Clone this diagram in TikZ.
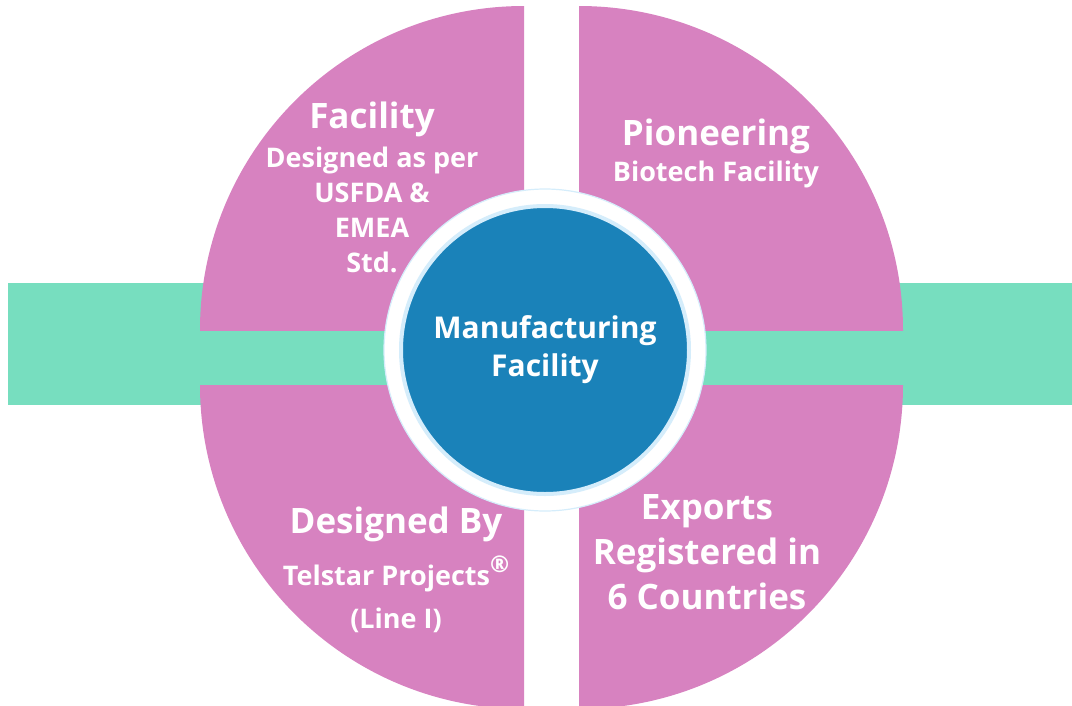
\documentclass[tikz,border=0pt]{standalone}
\usepackage{fontspec}
\setmainfont{Open Sans}
\usetikzlibrary{positioning}
\definecolor{petalpink}{HTML}{D782C0}
\definecolor{bandgreen}{HTML}{77DEBF}
\definecolor{hubblue}{HTML}{1A82B9}
\definecolor{ringblue}{HTML}{D5EDFB}
\tikzset{
    petal/.style = {fill=petalpink},
    band/.style = {fill=bandgreen},
    petal-title/.style = {text=white, font=\bfseries\fontsize{35}{45}\selectfont, align=center, inner sep=0pt, anchor=base},
    petal-text/.style = {text=white, font=\bfseries\fontsize{27}{35}\selectfont, align=center, inner sep=0pt, anchor=base},
    hub-ring/.style = {circle, fill=white, draw=ringblue, line width=1.2pt, minimum size=322pt, inner sep=0pt},
    hub/.style = {circle, fill=hubblue, draw=ringblue, line width=4pt, minimum size=288pt, inner sep=0pt, text=white, align=center, font=\bfseries\fontsize{30}{38}\selectfont},
}

\begin{document}
\begin{tikzpicture}[x=1pt, y=-1pt]
\useasboundingbox (0,0) rectangle (1072,705);
\fill[band] (8,283) rectangle (1072,405);
\foreach \cx/\cy/\ox/\oy in {524/330/0/0, 579/330/1072/0, 524/385/0/705, 579/385/1072/705}{
    \begin{scope}
        \clip (\cx,\cy) rectangle (\ox,\oy);
        \fill[petal] (\cx,\cy) circle (324);
    \end{scope}
}
\node[hub-ring] (ring) at (545,350) {};
\node[hub] (hub) at (ring.center) {Manufacturing\\Facility};

% multi-line nodes sit on the baseline of their last line
\node[petal-title] (tl-title) at (372,128) {Facility};
\node[petal-text] (tl-text) at (372,272) {Designed as per\\USFDA \&\\EMEA\\Std.};
\node[petal-title] (tr-title) at (716,145) {Pioneering};
\node[petal-text] (tr-text) at (716,181) {Biotech Facility};
\node[petal-title] (bl-title) at (396,533) {Designed By};
\node[petal-text, font=\bfseries\fontsize{27}{43}\selectfont] (bl-text) at (396,628) {Telstar Projects\raisebox{0.45em}{\fontsize{23}{23}\selectfont ®}\\(Line I)};
\node[petal-title] (br-title) at (707,609) {Exports\\Registered in\\6 Countries};
\end{tikzpicture}
\end{document}
